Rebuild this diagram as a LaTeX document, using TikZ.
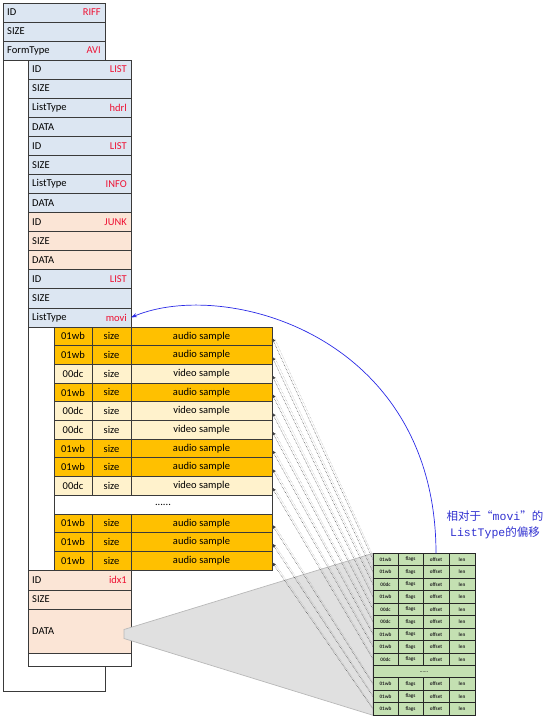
\documentclass[tikz,border=0pt]{standalone}
\usepackage{fontspec}
\setmainfont{Carlito}
\newfontfamily\cjkf{Noto Sans CJK SC}
\newfontfamily\monof{Liberation Mono}
\usetikzlibrary{arrows.meta,shadows}
\definecolor{cblue}{HTML}{DCE6F2}
\definecolor{cpeach}{HTML}{FBE5D6}
\definecolor{caudio}{HTML}{FFC000}
\definecolor{cvideo}{HTML}{FFF2CC}
\definecolor{cgreen}{HTML}{C4E0B2}
\definecolor{valred}{HTML}{EE1133}
\definecolor{bord}{HTML}{3A3A3A}
\definecolor{arcblue}{HTML}{2A2AE6}
\definecolor{txtblue}{HTML}{3030D0}
\begin{document}
\begin{tikzpicture}[x=1pt,y=-1pt,
  cell/.style={draw=bord, line width=0.8pt, anchor=north west, inner sep=0pt, outer sep=0pt},
  frame/.style={draw=bord, fill=white, line width=0.8pt, anchor=north west, inner sep=0pt, outer sep=0pt,
     drop shadow={shadow xshift=1pt, shadow yshift=-1pt, fill=black!35, opacity=0.6}},
  key/.style={anchor=west, inner sep=0pt, font=\fontsize{10.5}{12}\selectfont, text=black},
  val/.style={anchor=east, inner sep=0pt, font=\fontsize{10.5}{12}\selectfont, text=valred},
  scell/.style={cell, font=\fontsize{10.5}{12}\selectfont, text=black, minimum height=18.69pt},
  icell/.style={draw=black!85, line width=0.9pt, anchor=north west, inner sep=0pt, outer sep=0pt,
     fill=cgreen, minimum height=12.46pt, font=\fontsize{5.2}{6}\selectfont\bfseries, text=black!85},
  conn/.style={draw=black!75, densely dotted, line width=0.5pt, -{Triangle[length=4pt,width=3.6pt]}},
  connshadow/.style={draw=black!30, densely dotted, line width=0.5pt},
  arcline/.style={draw=arcblue, line width=0.7pt, -{Stealth[length=6pt,width=4pt]}}
]
\useasboundingbox (0,0) rectangle (553,721);

% level 1
\node[frame, minimum width=102pt, minimum height=688pt] (f1) at (3,3) {};
\foreach \i/\k/\v in {0/ID/RIFF, 1/SIZE/, 2/FormType/AVI} {
  \node[cell, fill=cblue, minimum width=102pt, minimum height=19pt] (a\i) at (3,{3+19*\i}) {};
  \node[key] (ak\i) at ([xshift=4pt]a\i.west) {\k};
  \node[val] (av\i) at ([xshift=-4pt]a\i.east) {\v};
}

% level 2
\node[frame, minimum width=103pt, minimum height=606pt] (f2) at (28,60) {};
\foreach \i/\k/\v/\c in {0/ID/LIST/cblue, 1/SIZE//cblue, 2/ListType/hdrl/cblue, 3/DATA//cblue,
   4/ID/LIST/cblue, 5/SIZE//cblue, 6/ListType/INFO/cblue, 7/DATA//cblue,
   8/ID/JUNK/cpeach, 9/SIZE//cpeach, 10/DATA//cpeach,
   11/ID/LIST/cblue, 12/SIZE//cblue, 13/ListType/movi/cblue} {
  \node[cell, fill=\c, minimum width=103pt, minimum height=19.07pt] (b\i) at (28,{60+19.07*\i}) {};
  \node[key] (bk\i) at ([xshift=4pt]b\i.west) {\k};
  \node[val] (bv\i) at ([xshift=-4pt]b\i.east) {\v};
}

% movi samples
\foreach \i/\t/\s/\c in {0/01wb/audio/caudio, 1/01wb/audio/caudio, 2/00dc/video/cvideo,
   3/01wb/audio/caudio, 4/00dc/video/cvideo, 5/00dc/video/cvideo, 6/01wb/audio/caudio,
   7/01wb/audio/caudio, 8/00dc/video/cvideo, 10/01wb/audio/caudio, 11/01wb/audio/caudio,
   12/01wb/audio/caudio} {
  \node[scell, fill=\c, minimum width=38pt] (sa\i) at (54,{327+18.69*\i}) {\t};
  \node[scell, fill=\c, minimum width=39pt] (sb\i) at (92,{327+18.69*\i}) {size};
  \node[scell, fill=\c, minimum width=141pt] (sc\i) at (131,{327+18.69*\i}) {\s\ sample};
}
\node[scell, fill=white, minimum width=218pt] (sdots) at (54,{327+18.69*9}) {......};

% idx1
\node[cell, fill=cpeach, minimum width=103pt, minimum height=19.5pt] (c0) at (28,570.5) {};
\node[key] (ck0) at ([xshift=4pt]c0.west) {ID};
\node[val] (cv0) at ([xshift=-4pt]c0.east) {idx1};
\node[cell, fill=cpeach, minimum width=103pt, minimum height=19pt] (c1) at (28,590) {};
\node[key] (ck1) at ([xshift=4pt]c1.west) {SIZE};
\node[cell, fill=cpeach, minimum width=103pt, minimum height=44pt] (c2) at (28,609) {};
\node[key] (ck2) at ([xshift=4pt]c2.west) {DATA};
\node[cell, fill=white, minimum width=103pt, minimum height=13pt] (c3) at (28,653) {};

% anchor points on the left edge of the index table
\foreach \i in {0,...,12} {
  \coordinate (xl\i) at (373,{553.3+12.46*\i+6.23});
}
\coordinate (itop) at (373,553.3);
\coordinate (ibot) at (373,{553.3+12.46*13});

% gray wedge
\coordinate (wt) at (124,629.5);
\coordinate (wb) at (124,638.5);
\fill[black!12, draw=black!28, line width=0.7pt] (wt) -- (itop) -- (ibot) -- (wb) -- cycle;

% connectors
\foreach \i in {0,1,2,3,4,5,6,7,8,10,11,12} {
  \draw[connshadow] ([shift={(3,3)}]xl\i) -- ([shift={(3,3)}]sc\i.east);
  \draw[conn] (xl\i) -- ([yshift=-1.5pt]sc\i.east);
}

% index table
\foreach \i/\t in {0/01wb,1/01wb,2/00dc,3/01wb,4/00dc,5/00dc,6/01wb,7/01wb,8/00dc,10/01wb,11/01wb,12/01wb} {
  \node[icell, minimum width=25pt] (xa\i) at (373,{553.3+12.46*\i}) {\t};
  \node[icell, minimum width=25pt] (xb\i) at (398,{553.3+12.46*\i}) {flags};
  \node[icell, minimum width=26pt] (xc\i) at (423,{553.3+12.46*\i}) {offset};
  \node[icell, minimum width=26pt] (xd\i) at (449,{553.3+12.46*\i}) {len};
}
\node[icell, minimum width=102pt] (xdots) at (373,{553.3+12.46*9}) {......};

% offset arc
\draw[arcline] (xc0.north) .. controls (436,335) and (225,278) .. (b13.east);

% note
\node[text=txtblue, align=center, inner sep=0pt, font=\fontsize{11.5}{16}\selectfont] (note) at (495,525)
  {{\cjkf 相对于“}{\monof movi}{\cjkf ”的}\\{\monof ListType}{\cjkf 的偏移}};
\end{tikzpicture}
\end{document}
